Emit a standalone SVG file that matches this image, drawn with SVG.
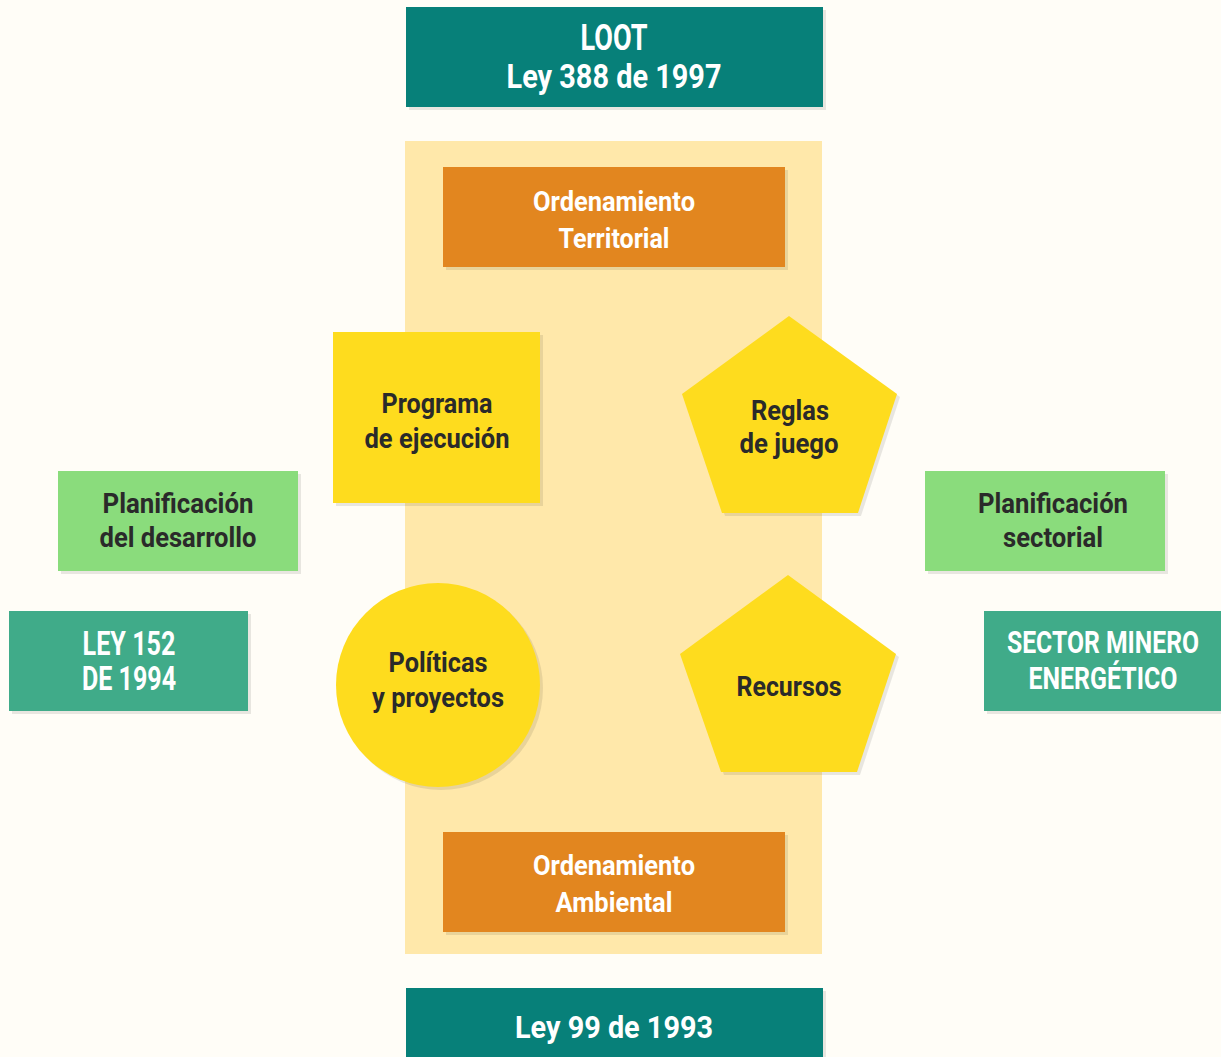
<svg xmlns="http://www.w3.org/2000/svg" width="1221" height="1057" viewBox="0 0 1221 1057">
<style>
.t{font-family:"Roboto","Liberation Sans",sans-serif;font-weight:700;text-anchor:middle}
.w{fill:#FFFFFF}
.d{fill:#2A2A2A}
.sh{fill:#000000;fill-opacity:0.09}
.teal{fill:#078079}
.org{fill:#E2861F}
.yel{fill:#FEDC1E}
.grn{fill:#8ADC7C}
.tl2{fill:#40AB89}
</style>
<rect x="0" y="0" width="1221" height="1057" fill="#FFFDF7"/>
<g id="band"><rect x="405" y="141" width="417" height="813" fill="#FFE8AA"/></g>

<g id="loot">
<rect class="sh" x="409" y="10" width="417" height="100"/>
<rect class="teal" x="406" y="7" width="417" height="100"/>
<text class="t w" x="614" y="50" font-size="37" textLength="67" lengthAdjust="spacingAndGlyphs">LOOT</text>
<text class="t w" x="614" y="88" font-size="33" textLength="215" lengthAdjust="spacingAndGlyphs">Ley 388 de 1997</text>
</g>

<g id="ord-territorial">
<rect class="sh" x="446" y="170" width="342" height="100"/>
<rect class="org" x="443" y="167" width="342" height="100"/>
<text class="t w" x="614" y="211" font-size="28" textLength="162" lengthAdjust="spacingAndGlyphs">Ordenamiento</text>
<text class="t w" x="614" y="248" font-size="28" textLength="111" lengthAdjust="spacingAndGlyphs">Territorial</text>
</g>

<g id="programa">
<rect class="sh" x="336" y="335" width="207" height="171"/>
<rect class="yel" x="333" y="332" width="207" height="171"/>
<text class="t d" x="437" y="413" font-size="28" textLength="111" lengthAdjust="spacingAndGlyphs">Programa</text>
<text class="t d" x="437" y="448" font-size="28" textLength="145" lengthAdjust="spacingAndGlyphs">de ejecución</text>
</g>

<g id="reglas">
<polygon class="sh" points="792,319 900,397 861,516 725,516 685,397"/>
<polygon class="yel" points="789,316 897,394 858,513 722,513 682,394"/>
<text class="t d" x="790" y="420" font-size="28" textLength="78" lengthAdjust="spacingAndGlyphs">Reglas</text>
<text class="t d" x="789" y="453" font-size="28" textLength="99" lengthAdjust="spacingAndGlyphs">de juego</text>
</g>

<g id="planif-desarrollo">
<rect class="sh" x="61" y="474" width="240" height="100"/>
<rect class="grn" x="58" y="471" width="240" height="100"/>
<text class="t d" x="178" y="513" font-size="28" textLength="151" lengthAdjust="spacingAndGlyphs">Planificación</text>
<text class="t d" x="178" y="547" font-size="28" textLength="157" lengthAdjust="spacingAndGlyphs">del desarrollo</text>
</g>

<g id="planif-sectorial">
<rect class="sh" x="928" y="474" width="240" height="100"/>
<rect class="grn" x="925" y="471" width="240" height="100"/>
<text class="t d" x="1053" y="513" font-size="28" textLength="150" lengthAdjust="spacingAndGlyphs">Planificación</text>
<text class="t d" x="1053" y="547" font-size="28" textLength="100" lengthAdjust="spacingAndGlyphs">sectorial</text>
</g>

<g id="ley152">
<rect class="sh" x="12" y="614" width="239" height="100"/>
<rect class="tl2" x="9" y="611" width="239" height="100"/>
<text class="t w" x="129" y="655" font-size="33" textLength="93" lengthAdjust="spacingAndGlyphs">LEY 152</text>
<text class="t w" x="129" y="690" font-size="33" textLength="94" lengthAdjust="spacingAndGlyphs">DE 1994</text>
</g>

<g id="sector-minero">
<rect class="sh" x="987" y="614" width="237" height="100"/>
<rect class="tl2" x="984" y="611" width="237" height="100"/>
<text class="t w" x="1103" y="653" font-size="32" textLength="192" lengthAdjust="spacingAndGlyphs">SECTOR MINERO</text>
<text class="t w" x="1103" y="689" font-size="32" textLength="149" lengthAdjust="spacingAndGlyphs">ENERGÉTICO</text>
</g>

<g id="politicas">
<circle class="sh" cx="441" cy="688" r="102"/>
<circle class="yel" cx="438" cy="685" r="102"/>
<text class="t d" x="438" y="672" font-size="28" textLength="99" lengthAdjust="spacingAndGlyphs">Políticas</text>
<text class="t d" x="438" y="707" font-size="28" textLength="132" lengthAdjust="spacingAndGlyphs">y proyectos</text>
</g>

<g id="recursos">
<polygon class="sh" points="791,578 899,657 860,775 724,775 683,657"/>
<polygon class="yel" points="788,575 896,654 857,772 721,772 680,654"/>
<text class="t d" x="789" y="696" font-size="28" textLength="105" lengthAdjust="spacingAndGlyphs">Recursos</text>
</g>

<g id="ord-ambiental">
<rect class="sh" x="446" y="835" width="342" height="100"/>
<rect class="org" x="443" y="832" width="342" height="100"/>
<text class="t w" x="614" y="875" font-size="28" textLength="162" lengthAdjust="spacingAndGlyphs">Ordenamiento</text>
<text class="t w" x="614" y="912" font-size="28" textLength="117" lengthAdjust="spacingAndGlyphs">Ambiental</text>
</g>

<g id="ley99">
<rect class="sh" x="409" y="991" width="417" height="70"/>
<rect class="teal" x="406" y="988" width="417" height="70"/>
<text class="t w" x="614" y="1038" font-size="31" textLength="198" lengthAdjust="spacingAndGlyphs">Ley 99 de 1993</text>
</g>

<g id="connectors"/>
</svg>
